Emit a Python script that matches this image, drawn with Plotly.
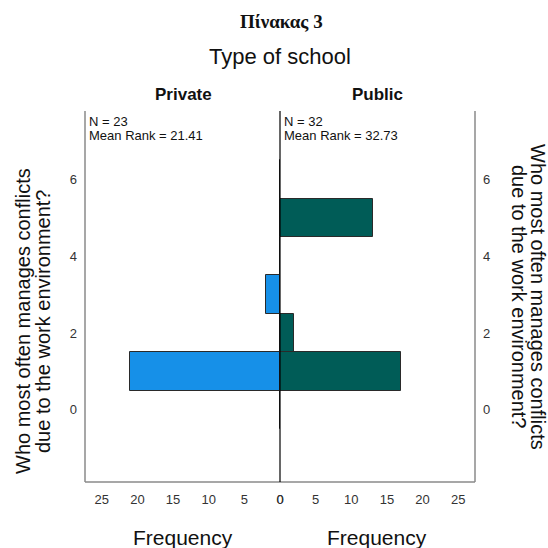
import plotly.graph_objects as go
from plotly.subplots import make_subplots

# Data
categories = [0, 1, 2, 3, 4, 5, 6]
private_freq = [0, 21, 0, 2, 0, 0, 0]
public_freq = [0, 17, 2, 0, 0, 13, 0]
groups = ["Private", "Public"]
group_n = [23, 32]
mean_rank = ["21.41", "32.73"]
x_ticks = [0, 5, 10, 15, 20, 25]
y_ticks = [0, 2, 4, 6]

XMAX = 27.35
YR = [-1.88, 7.78]

fig = make_subplots(rows=1, cols=2, horizontal_spacing=0, shared_yaxes=False)

bar_line = dict(color="#2a2a2a", width=1)
fig.add_trace(go.Bar(y=categories, x=private_freq, orientation="h", width=1,
                     marker=dict(color="#1690E8", line=bar_line), showlegend=False), row=1, col=1)
fig.add_trace(go.Bar(y=categories, x=public_freq, orientation="h", width=1,
                     marker=dict(color="#005C57", line=bar_line), showlegend=False), row=1, col=2)

tickfont = dict(family="Liberation Sans, Arial", size=13, color="#333333")
xcommon = dict(tickvals=x_ticks, ticks="", showgrid=False, zeroline=False, showline=False,
               tickfont=tickfont, ticklabelstandoff=8)
ycommon = dict(range=YR, tickvals=y_ticks, ticks="", showgrid=False, zeroline=False, showline=False,
               tickfont=tickfont, ticklabelstandoff=7)
fig.update_xaxes(range=[XMAX, 0], row=1, col=1, **xcommon)
fig.update_xaxes(range=[0, XMAX], row=1, col=2, **xcommon)
fig.update_yaxes(row=1, col=1, **ycommon)
fig.update_yaxes(side="right", row=1, col=2, **ycommon)

frame = "#8a8a8a"
shapes = [
    dict(type="line", xref="paper", yref="paper", x0=0, x1=0, y0=0, y1=1, line=dict(color=frame, width=1.5)),
    dict(type="line", xref="paper", yref="paper", x0=1, x1=1, y0=0, y1=1, line=dict(color=frame, width=1.5)),
    dict(type="line", xref="paper", yref="paper", x0=0, x1=1, y0=0, y1=0, line=dict(color=frame, width=1.5)),
    dict(type="line", xref="paper", yref="paper", x0=0.5, x1=0.5, y0=0, y1=1, line=dict(color="#000000", width=1.2)),
]

sans = "Liberation Sans, Arial"
ann = [
    dict(text="<b>Πίνακας 3</b>", x=281, y=21, font=dict(family="Liberation Serif, Times New Roman", size=19, color="#111")),
    dict(text="Type of school", x=280, y=57, font=dict(family=sans, size=22, color="#111")),
    dict(text="<b>" + groups[0] + "</b>", x=183, y=95, font=dict(family=sans, size=17, color="#111")),
    dict(text="<b>" + groups[1] + "</b>", x=377, y=95, font=dict(family=sans, size=17, color="#111")),
    dict(text="Frequency", x=183, y=537, font=dict(family=sans, size=21, color="#111")),
    dict(text="Frequency", x=377, y=537, font=dict(family=sans, size=21, color="#111")),
]

L, R, T, B = 85, 475, 111, 482
PW, PH = R - L, B - T

def px(x):
    return (x - L) / PW

def py(y):
    return (B - y) / PH

annotations = []
for a in ann:
    annotations.append(dict(text=a["text"], xref="paper", yref="paper", x=px(a["x"]), y=py(a["y"]),
                            xanchor="center", yanchor="middle", showarrow=False, font=a["font"]))

for i, xx in enumerate([87, 282]):
    for txt, yy in [("N = %d" % group_n[i], 121), ("Mean Rank = %s" % mean_rank[i], 135)]:
        annotations.append(dict(text=txt, xref="paper", yref="paper", x=px(xx), y=py(yy),
                                xanchor="left", yanchor="middle", align="left", showarrow=False,
                                font=dict(family=sans, size=13, color="#111")))

ytitle_lines = ["Who most often manages conflicts", "due to the work environment?"]
tfont = dict(family=sans, size=20, color="#111")
for line, xx in zip(ytitle_lines, [23, 43]):
    annotations.append(dict(text=line, xref="paper", yref="paper", x=px(xx), y=py(321),
                            xanchor="center", yanchor="middle", textangle=-90, showarrow=False, font=tfont))
for line, xx in zip(ytitle_lines, [538, 519]):
    annotations.append(dict(text=line, xref="paper", yref="paper", x=px(xx), y=py(297),
                            xanchor="center", yanchor="middle", textangle=90, showarrow=False, font=tfont))

fig.update_layout(width=548, height=548, margin=dict(l=L, r=548 - R, t=T, b=548 - B),
                  plot_bgcolor="white", paper_bgcolor="white", bargap=0,
                  shapes=shapes, annotations=annotations)

fig.write_html("out.html", config={"displayModeBar": False},
               post_script="document.body.style.margin='0';document.body.style.overflow='hidden';")
